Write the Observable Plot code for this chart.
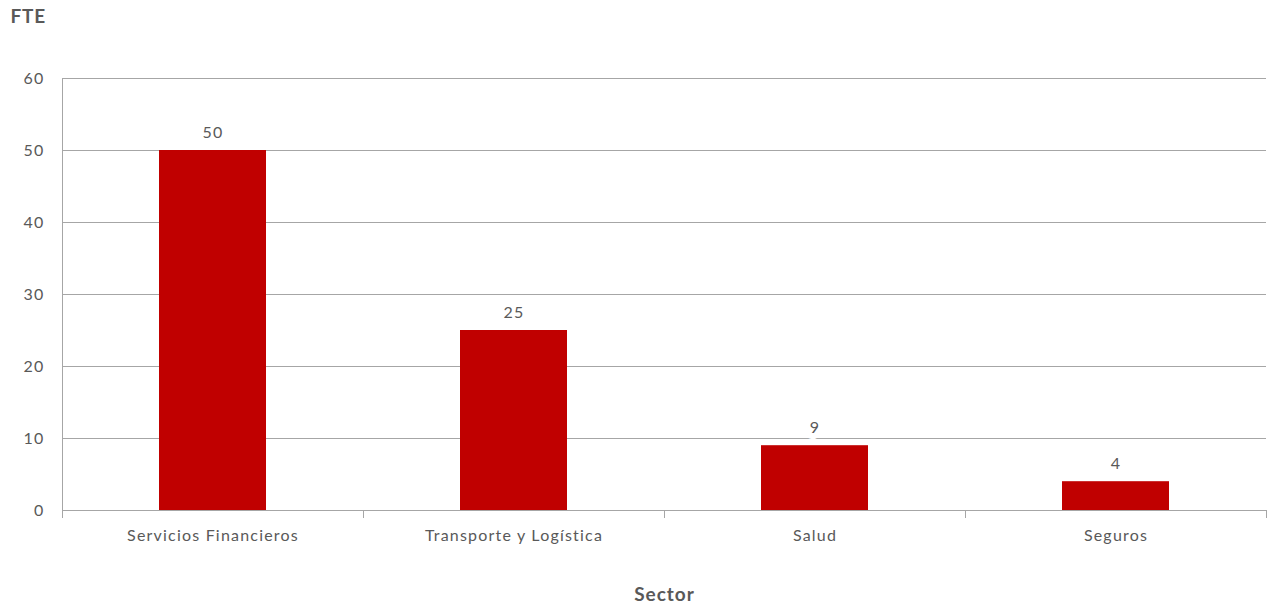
<!DOCTYPE html>
<html>
<head>
<meta charset="utf-8">
<script src="https://cdn.jsdelivr.net/npm/d3@7"></script>
<script src="https://cdn.jsdelivr.net/npm/@observablehq/plot@0.6"></script>
<style>
  html, body { margin: 0; padding: 0; background: #fff; }
  #chart svg { display: block; }
</style>
</head>
<body>
<div id="chart"></div>
<script>
const sectors = ["Servicios Financieros", "Transporte y Logística", "Salud", "Seguros"];
const fte = [50, 25, 9, 4];
const yTicks = [0, 10, 20, 30, 40, 50, 60];

const data = sectors.map((s, i) => ({sector: s, value: fte[i]}));

const W = 1268, H = 605;
const mL = 62, mR = 2, mT = 78, mB = 95;
const step = (W - mL - mR) / sectors.length;
const barW = 107;
const inset = (step - barW) / 2;
const gray = "#595959";
const lineGray = "#a6a6a6";
const font = "Lato, 'Open Sans', sans-serif";

const chart = Plot.plot({
  width: W,
  height: H,
  marginLeft: mL,
  marginRight: mR,
  marginTop: mT,
  marginBottom: mB,
  style: {fontFamily: font, fontSize: "16px", color: gray, background: "#fff"},
  x: {domain: sectors, padding: 0},
  y: {domain: [0, 60]},
  marks: [
    Plot.gridY(yTicks, {stroke: lineGray, strokeOpacity: 1}),
    Plot.ruleX([sectors[0]], {x: d => d, y1: 0, y2: 60, dx: -step / 2, stroke: lineGray}),
    Plot.barY(data, {x: "sector", y: "value", fill: "#C00000", insetLeft: inset, insetRight: inset}),
    Plot.ruleY([0], {stroke: lineGray}),
    Plot.axisX({tickSize: 8, tickFormat: () => "", dx: -step / 2, stroke: lineGray, label: null}),
    Plot.axisX({tickSize: 8, tickFormat: () => "", dx: step / 2, stroke: lineGray, label: null}),
    Plot.axisX({tickSize: 0, tickPadding: 19, fontSize: 16, fill: gray, label: "Sector",
      labelAnchor: "center", labelOffset: 90}),
    Plot.axisY(yTicks, {tickSize: 0, tickPadding: 18, fontSize: 16, fill: gray,
      label: "FTE", labelAnchor: "top", labelArrow: "none", labelOffset: mL - 10}),
    Plot.text(data, {x: "sector", y: "value", text: d => String(d.value), dy: -13,
      lineAnchor: "bottom", fontSize: 16, fill: gray, stroke: "#fff", strokeWidth: 12, paintOrder: "stroke"})
  ]
});

const sel = d3.select(chart);
sel.selectAll("[aria-label='x-axis tick label'] text, [aria-label='y-axis tick label'] text, [aria-label='text'] text")
  .style("letter-spacing", "1.2px");
sel.selectAll("[aria-label='x-axis label'] text")
  .style("font-weight", "bold").style("font-size", "19px").style("letter-spacing", "1px").style("fill", gray);
sel.selectAll("[aria-label='y-axis label'] text")
  .style("font-weight", "bold").style("font-size", "19px").style("letter-spacing", "0.8px").style("fill", gray)
  .attr("transform", function() { return (this.getAttribute("transform") || "") + " translate(0,6)"; });
document.getElementById("chart").appendChild(chart);
</script>
</body>
</html>
